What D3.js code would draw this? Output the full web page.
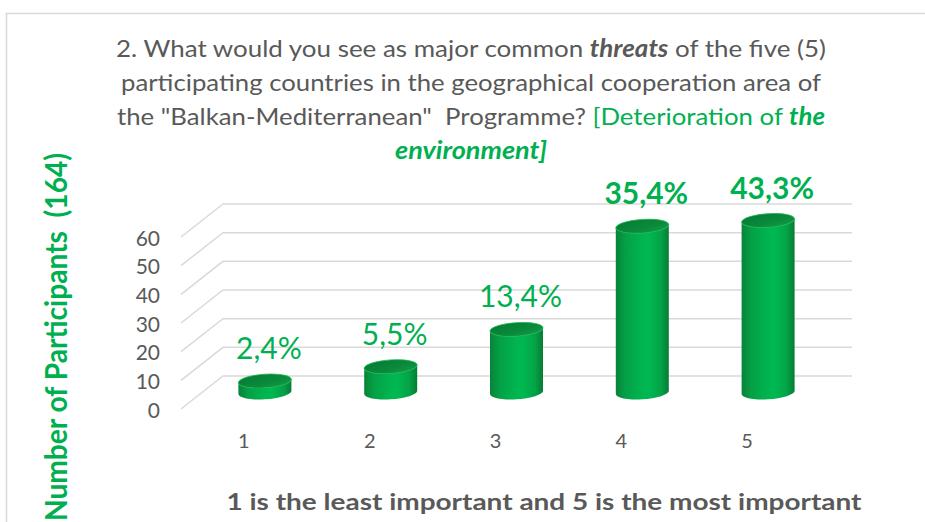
<!DOCTYPE html>
<html><head><meta charset="utf-8">
<script src="https://cdn.jsdelivr.net/npm/d3@7"></script>
<style>
body{margin:0;background:#fff}
svg{display:block}
text{font-family:Lato,"Open Sans",sans-serif;white-space:pre}
</style>
</head><body>
<svg id="c" width="925" height="522"></svg>
<script>
// ---- data ----
const categories = ["1", "2", "3", "4", "5"];
const counts = [4, 9, 22, 58, 71];
const percentLabels = ["2,4%", "5,5%", "13,4%", "35,4%", "43,3%"];
const boldLabels = [false, false, false, true, true];
const yTicks = [0, 10, 20, 30, 40, 50, 60];
const yMax = 60;
const titleLines = [
  [{t: "2. What would you see as major common "}, {t: "threats", b: 1, i: 1}, {t: " of the five (5)"}],
  [{t: "participating countries in the geographical cooperation area of"}],
  [{t: "the \"Balkan-Mediterranean\"  Programme? "}, {t: "[Deterioration of ", g: 1}, {t: "the", g: 1, b: 1, i: 1}],
  [{t: "environment]", g: 1, b: 1, i: 1}]
];
const yAxisTitle = "Number of Participants  (164)";
const xAxisTitle = "1 is the least important and 5 is the most important";

// ---- layout ----
const GRAY = "#595959", GREEN = "#00B050", GRID = "#d9d9d9";
const svg = d3.select("#c");
const wall = {x0: 223, x1: 852, y0: 376, y1: 204};
const depth = {dx: -42, dy: 33};

const x = d3.scaleBand().domain(categories).range([wall.x0, wall.x1]).padding(0);
const y = d3.scaleLinear().domain([0, yMax]).range([wall.y0, wall.y1]).clamp(true);

// frame
svg.append("path").attr("d", "M6.5,522 L6.5,13.5 L925,13.5")
  .attr("fill", "none").attr("stroke", GRID).attr("stroke-width", 1.5);

// title
const tl = {cx: 471, base: [57, 91, 125, 159], w: [710, 700, 708, 152]};
titleLines.forEach((segs, li) => {
  const t = svg.append("text").attr("x", tl.cx).attr("y", tl.base[li])
    .attr("text-anchor", "middle").attr("font-size", 24)
    .attr("textLength", tl.w[li]).attr("lengthAdjust", "spacingAndGlyphs");
  segs.forEach(s => {
    t.append("tspan").text(s.t)
      .attr("fill", s.g ? GREEN : GRAY)
      .attr("font-weight", s.b ? 700 : 400)
      .attr("font-style", s.i ? "italic" : "normal");
  });
});

// gridlines (back wall + side wall)
const grid = svg.append("g").attr("stroke", GRID).attr("stroke-width", 1.5).attr("fill", "none");
yTicks.forEach(v => {
  const yy = y(v);
  grid.append("path").attr("d", `M${wall.x0 + depth.dx},${yy + depth.dy} L${wall.x0},${yy} L${wall.x1},${yy}`);
});

// y tick labels
svg.append("g").selectAll("text").data(yTicks).join("text")
  .attr("x", 160).attr("y", d => y(d) + depth.dy + 8.5)
  .attr("text-anchor", "end").attr("font-size", 21).attr("fill", GRAY)
  .text(d => d);

// x tick labels (front edge)
svg.append("g").selectAll("text").data(categories).join("text")
  .attr("x", d => x(d) + x.bandwidth() / 2 + depth.dx)
  .attr("y", 448)
  .attr("text-anchor", "middle").attr("font-size", 20).attr("fill", GRAY)
  .text(d => d);

// gradients
const defs = svg.append("defs");
const bodyGrad = defs.append("linearGradient").attr("id", "bodyGrad").attr("x1", 0).attr("x2", 1).attr("y1", 0).attr("y2", 0);
[[0, "#08833a"], [0.18, "#04a045"], [0.5, "#00b550"], [0.62, "#00b852"], [0.85, "#03a346"], [1, "#077c35"]]
  .forEach(([o, c]) => bodyGrad.append("stop").attr("offset", o).attr("stop-color", c));
const capGrad = defs.append("linearGradient").attr("id", "capGrad").attr("x1", 0).attr("x2", 1).attr("y1", 0).attr("y2", 1);
[[0, "#067a33"], [0.6, "#0a8a3b"], [1, "#12a04a"]]
  .forEach(([o, c]) => capGrad.append("stop").attr("offset", o).attr("stop-color", c));

// cylinders
const rx = 26.5, ry = 6.8;
const bars = svg.append("g");
categories.forEach((c, i) => {
  const cx = x(c) + x.bandwidth() / 2 + depth.dx / 2;
  const yb = y(0) + depth.dy / 2;
  const yt = y(counts[i]) + depth.dy / 2;
  const g = bars.append("g")
    .attr("transform", `translate(${cx},0) skewY(-3.5) translate(${-cx},0)`);
  g.append("path")
    .attr("d", `M${cx - rx},${yt} L${cx - rx},${yb} A${rx},${ry} 0 0 0 ${cx + rx},${yb} L${cx + rx},${yt} A${rx},${ry} 0 0 1 ${cx - rx},${yt} Z`)
    .attr("fill", "url(#bodyGrad)");
  g.append("ellipse").attr("cx", cx).attr("cy", yt).attr("rx", rx).attr("ry", ry)
    .attr("fill", "url(#capGrad)").attr("stroke", "#19b356").attr("stroke-width", 0.8);
  // value label
  svg.append("text")
    .attr("x", cx + 4).attr("y", yt - 22)
    .attr("text-anchor", "middle").attr("font-size", 30)
    .attr("font-weight", boldLabels[i] ? 700 : 400)
    .attr("fill", GREEN).text(percentLabels[i]);
});

// axis titles
svg.append("text").attr("transform", "translate(67,521) rotate(-90)")
  .attr("font-size", 30).attr("font-weight", 700).attr("fill", GREEN)
  .attr("textLength", 368).attr("lengthAdjust", "spacingAndGlyphs")
  .text(yAxisTitle);
svg.append("text").attr("x", 544).attr("y", 510).attr("text-anchor", "middle")
  .attr("font-size", 23).attr("font-weight", 700).attr("fill", GRAY)
  .attr("textLength", 635).attr("lengthAdjust", "spacingAndGlyphs")
  .text(xAxisTitle);
</script>
</body></html>
